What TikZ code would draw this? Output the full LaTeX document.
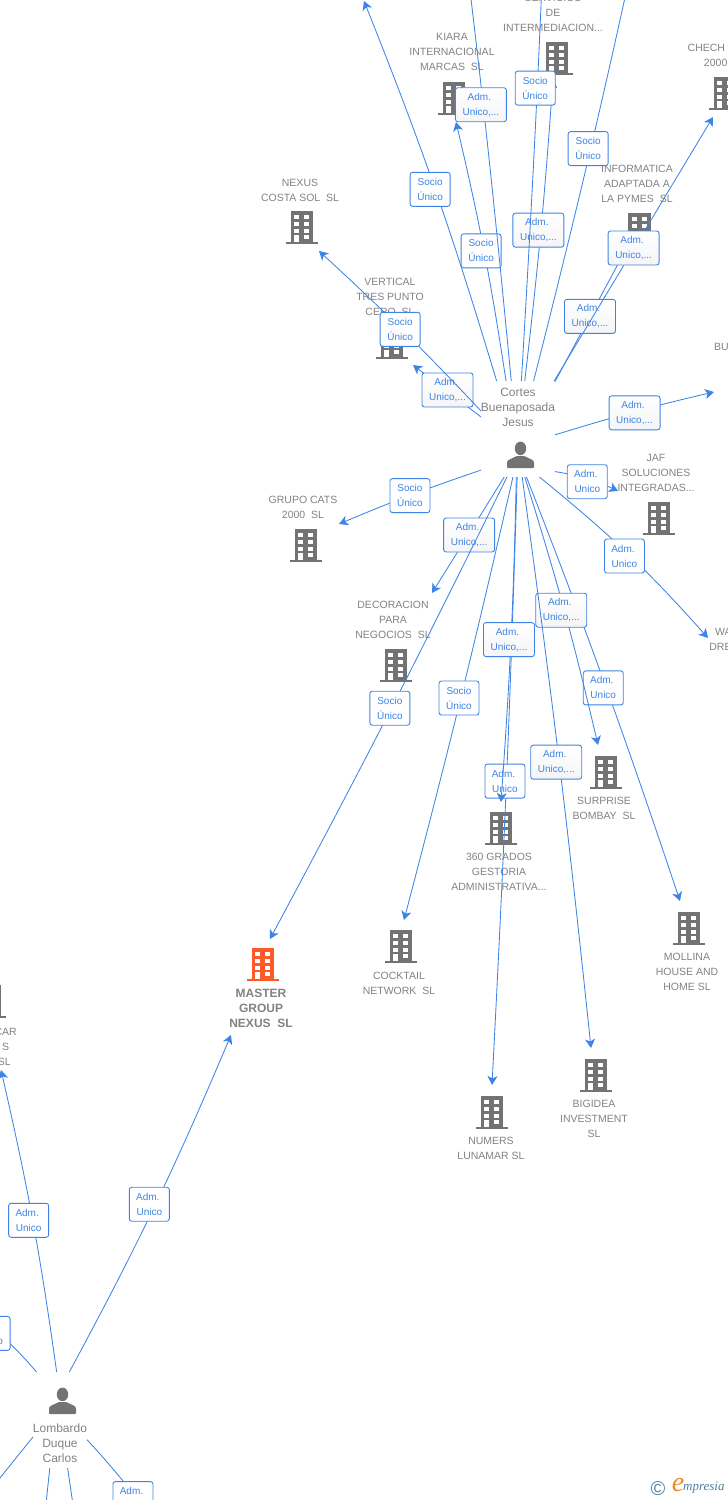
\documentclass[tikz,border=0pt]{standalone}
\usepackage{fontspec}
\setmainfont{Liberation Sans}
\newfontfamily\logofont{Liberation Serif}
\usetikzlibrary{arrows.meta}
\definecolor{linkblue}{HTML}{3D84E6}
\definecolor{textgray}{HTML}{828282}
\definecolor{icongray}{HTML}{737373}
\definecolor{iconorange}{HTML}{FC5A2B}
\definecolor{logoblue}{HTML}{4F7F9B}
\definecolor{logoorange}{HTML}{F08A1D}
\tikzset{
  company/.style={text=textgray,align=center,inner sep=0pt,font=\fontsize{10.5}{15}\selectfont},
  person/.style={text=textgray,align=center,inner sep=0pt,font=\fontsize{12}{15}\selectfont},
  area/.style={inner sep=0pt,outer sep=0pt,minimum width=#1,minimum height=96pt},
  link/.style={draw=linkblue,line width=0.85pt,-{Stealth[length=9pt,width=10pt,inset=2.5pt]}},
  tag/.style={draw=linkblue,line width=0.9pt,rounded corners=2.5pt,fill=white,text=linkblue,align=center,
    inner sep=0pt,minimum width=40pt,minimum height=34pt,font=\fontsize{10}{15}\selectfont},
  longtag/.style={tag,minimum width=51pt,top color=white,bottom color=black!4},
  pics/building/.style={code={
    \fill[#1] (-11.2,-16.5) rectangle (11.2,15);
    \fill[#1] (-16,14.5) rectangle (16,16.5);
    \foreach \wy in {-12.5,-5.2,1.5}{
      \fill[white] (-7.7,\wy) rectangle (-2.8,\wy+4);
      \fill[white] (2.3,\wy) rectangle (7,\wy+4);
    }
    \fill[white] (-7.7,7.7) rectangle (-2.8,14.5);
    \fill[white] (2.3,7.7) rectangle (7,11.8);
  }},
  pics/building/.default=icongray,
  pics/personicon/.style={code={
    \fill[icongray] (0,-6.6) ellipse (5.7 and 6.8);
    \fill[icongray,rounded corners=1pt] (-13.5,13) -- (-13.5,8.5) .. controls (-13.5,4.5) and (-8,3.5) .. (-4,1) -- (4,1) .. controls (8,3.5) and (13.5,4.5) .. (13.5,8.5) -- (13.5,13) -- cycle;
  }}
}
\begin{document}
\begin{tikzpicture}[x=1pt,y=-1pt]
\useasboundingbox (0,0) rectangle (728,1500);

% companies
\node[company] (servicios) at (553,13) {SERVICIOS\\DE\\INTERMEDIACION...};
\pic at (557,58.5) {building};
\node[company] (kiara) at (452,52) {KIARA\\INTERNACIONAL\\MARCAS~~SL};
\pic at (454,98.5) {building};
\node[company] (chechu) at (725,55) {CHECH\hphantom{UCHEC}\\2000\hphantom{~~SL}};
\pic at (725,93.5) {building};
\node[company] (informatica) at (637,184) {INFORMATICA\\ADAPTADA A\\LA PYMES~~SL};
\pic at (639.5,229.5) {building};
\node[company] (nexus) at (300,190) {NEXUS\\COSTA SOL~~SL};
\pic at (302,227.5) {building};
\node[company] (vertical) at (390,297) {VERTICAL\\TRES PUNTO\\CERO~~SL};
\pic at (392,342.5) {building};
\node[company,anchor=west] (bu) at (714,347) {BU};
\node[company] (jaf) at (656,473) {JAF\\SOLUCIONES\\INTEGRADAS...};
\pic at (659,518.5) {building};
\node[company] (grupo) at (303,507.5) {GRUPO CATS\\2000~~SL};
\pic at (306,545.5) {building};
\node[company] (decoracion) at (393,620) {DECORACION\\PARA\\NEGOCIOS~~SL};
\pic at (396,665.5) {building};
\node[company,anchor=west] (wa) at (709,639.5) {\hspace*{6pt}WA\\DRE};
\node[company] (surprise) at (604,808.5) {SURPRISE\\BOMBAY~~SL};
\pic at (606,772.5) {building};
\node[company] (grados) at (499,872) {360 GRADOS\\GESTORIA\\ADMINISTRATIVA...};
\pic at (501,828.5) {building};
\node[company] (cocktail) at (399,983.5) {COCKTAIL\\NETWORK~~SL};
\pic at (401,946.5) {building};
\node[company] (mollina) at (687,972) {MOLLINA\\HOUSE AND\\HOME SL};
\pic at (689,928) {building};
\node[company] (numers) at (491,1148.5) {NUMERS\\LUNAMAR SL};
\pic at (492,1112) {building};
\node[company] (bigidea) at (594,1119) {BIGIDEA\\INVESTMENT\\SL};
\pic at (596,1075) {building};
\node[company,font=\bfseries\fontsize{12}{14.7}\selectfont] (master) at (261,1008.5) {MASTER\\GROUP\\NEXUS~~SL};
\pic at (263,964.5) {building=iconorange};
\node[company,anchor=east] (car) at (17,1047) {CAR\\S\hspace*{10pt}\\SL\hspace*{3pt}};
\pic at (-10,1001.5) {building};

% people
\node[area=74pt] (cortes) at (518,429) {};
\node[person] (cortesname) at (518,407) {Cortes\\Buenaposada\\Jesus};
\pic at (520.5,455) {personicon};
\node[area=54pt] (lombardo) at (60,1420) {};
\node[person] (lombardoname) at (60,1443) {Lombardo\\Duque\\Carlos};
\pic at (62.5,1401) {personicon};

% free ends
\coordinate (tvertical) at (413,365);
\coordinate (tnexus) at (319,251);
\coordinate (tup1) at (364,1);
\coordinate (tkiara) at (456,122);
\coordinate (tup2) at (450,-171);
\coordinate (tservicios) at (553,79);
\coordinate (tup3) at (549,-205);
\coordinate (tinformatica) at (625,251);
\coordinate (tchechu) at (713,117);
\coordinate (tup4) at (643,-85);
\coordinate (tbu) at (714,392);
\coordinate (tjaf) at (618,491);
\coordinate (twa) at (708,638);
\coordinate (tgrupo) at (339,524);
\coordinate (tdecoracion) at (432,593);
\coordinate (tmaster) at (270,939);
\coordinate (tcocktail) at (404,920);
\coordinate (tnumers) at (492,1085);
\coordinate (tgrados) at (501,802);
\coordinate (tmollina) at (680,901);
\coordinate (tsurprise) at (598,745);
\coordinate (tbigidea) at (591,1048);
\coordinate (tmaster2) at (231,1035);
\coordinate (tcar) at (1,1070);
\coordinate (tleft1) at (-54,1298);
\coordinate (tright) at (176,1556);
\coordinate (tleft2) at (-33,1519);
\coordinate (tdown1) at (43,1532);
\coordinate (tdown2) at (77,1532);

% links from Cortes
\draw[link] (cortes.162) -- node[longtag,xshift=0.5pt,yshift=1pt] (a1) {Adm.\hspace*{3pt}\\Unico,...} (tvertical);
\draw[link] (cortes.154.1) to[bend right=2] node[tag,xshift=-1.5pt] (s1) {Socio\\Único} (tnexus);
\draw[link] (cortes.114.6) to[bend right=2.5] node[tag,xshift=-5pt] (s2) {Socio\\Único} (tup1);
\draw[link] (cortes.104) to[bend right=2.3] node[tag,xshift=-3pt] (s3) {Socio\\Único} (tkiara);
\draw[link] (cortes.98.3) to[bend right=0.9] node[longtag,xshift=-2.3pt] (a2) {Adm.\hspace*{3pt}\\Unico,...} (tup2);
\draw[link] (cortes.82.9) to[bend right=1.3] node[longtag,xshift=-2.5pt] (a3) {Adm.\hspace*{3pt}\\Unico,...} (tservicios);
\draw[link] (cortes.86.4) to[bend right=0.7] node[tag,xshift=-2pt] (s4) {Socio\\Único} (tup3);
\draw[link] (cortes.52.6) -- node[longtag] (a4) {Adm.\hspace*{3pt}\\Unico,...} (tinformatica);
\draw[link] (cortes.53.9) -- node[longtag,yshift=1pt] (a5) {Adm.\hspace*{3pt}\\Unico,...} (tchechu);
\draw[link] (cortes.72.6) to[bend right=1] node[tag,xshift=-2.5pt] (s5) {Socio\\Único} (tup4);
\draw[link] (cortes.-9.2) to[bend left=2] node[longtag,xshift=0.5pt,yshift=-1pt] (a6) {Adm.\hspace*{3pt}\\Unico,...} (tbu);
\draw[link] (cortes.-49.3) to[bend left=8] node[tag,yshift=-3pt] (a7) {Adm.\hspace*{3pt}\\Unico} (tjaf);
\draw[link] (cortes.-66.4) to[bend left=4.6] node[tag,xshift=-3pt,yshift=-2.5pt] (a8) {Adm.\hspace*{3pt}\\Unico} (twa);
\draw[link] (cortes.228.6) to[bend right=2] node[tag,xshift=0.5pt] (s6) {Socio\\Único} (tgrupo);
\draw[link] (cortes.254.8) -- node[longtag,xshift=1pt] (a9) {Adm.\hspace*{3pt}\\Unico,...} (tdecoracion);
\draw[link] (cortes.257.7) to[bend left=1] node[tag,xshift=-1pt,yshift=1pt] (s7) {Socio\\Único} (tmaster);
\draw[link] (cortes.-96) to[bend left=0.9] node[tag,xshift=-1.5pt,yshift=1pt] (s8) {Socio\\Único} (tcocktail);
\draw[link] (cortes.-91.2) to[bend left=0.6] node[tag,xshift=-1.5pt] (a10) {Adm.\hspace*{3pt}\\Unico} (tnumers);
\draw[link] (cortes.-92.4) to[bend left=1.4] node[longtag,xshift=-2pt] (a11) {Adm.\hspace*{3pt}\\Unico,...} (tgrados);
\draw[link] (cortes.-80.5) to[bend left=1.4] node[tag,xshift=-3pt] (a12) {Adm.\hspace*{3pt}\\Unico} (tmollina);
\draw[link] (cortes.-82.9) to[bend left=2.1] node[longtag,xshift=-3pt] (a13) {Adm.\hspace*{3pt}\\Unico,...} (tsurprise);
\draw[link] (cortes.-85.2) to[bend left=0.9] node[longtag,xshift=-3pt] (a14) {Adm.\hspace*{3pt}\\Unico,...} (tbigidea);

% links from Lombardo
\draw[link] (lombardo.79.4) to[bend right=2.7] node[tag,xshift=-5.5pt,yshift=1.5pt] (a15) {Adm.\hspace*{3pt}\\Unico} (tmaster2);
\draw[link] (lombardo.94.8) to[bend right=2.5] node[tag,xshift=-4pt] (a16) {Adm.\hspace*{3pt}\\Unico} (tcar);
\draw[link] (lombardo.116.6) to[bend right=10] node[tag,xshift=-5pt,yshift=-3pt] (a17) {Adm.\hspace*{3pt}\\Unico} (tleft1);
\draw[link] (lombardo.-36.5) to[bend left=5] node[tag,xshift=-1.5pt,yshift=-3pt] (a18) {Adm.\hspace*{3pt}\\\phantom{Unico}} (tright);
\draw[link] (lombardo.212.2) -- (tleft2);
\draw[link] (lombardo.-102.9) -- (tdown1);
\draw[link] (lombardo.-81.7) -- (tdown2);

% logo
\node[inner sep=0pt,text=logoblue,font=\fontsize{20}{20}\selectfont] (copyr) at (658,1489) {©};
\node[inner sep=0pt,text=logoorange,font=\logofont\itshape\fontsize{28}{28}\selectfont] (logoe) at (678,1485) {e};
\node[inner sep=0pt,text=logoblue,anchor=west,font=\logofont\itshape\fontsize{13}{13}\selectfont] (logotext) at (683,1488) {mpresia};
\end{tikzpicture}
\end{document}
